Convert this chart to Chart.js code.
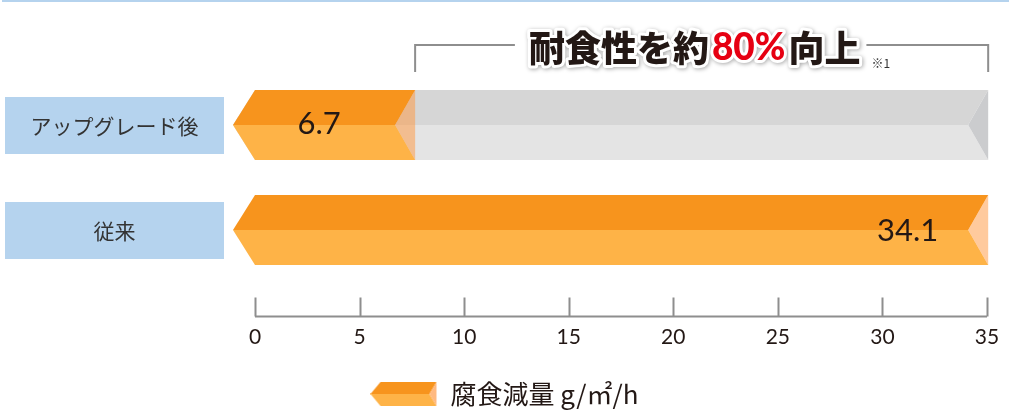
<!DOCTYPE html>
<html lang="ja">
<head>
<meta charset="utf-8">
<script src="https://cdn.jsdelivr.net/npm/chart.js@4.4.1/dist/chart.umd.min.js"></script>
<style>
  html, body { margin: 0; padding: 0; background: #fff; }
  #wrap { position: relative; width: 1009px; height: 411px; }
</style>
</head>
<body>
<div id="wrap"><canvas id="chart" width="1009" height="411"></canvas></div>
<script>
// データ
const categories = ["アップグレード後", "従来"];
const lossValues = [6.7, 34.1];
const compareValues = [34.1, null];
const tickValues = [0, 5, 10, 15, 20, 25, 30, 35];
const seriesLabel = "腐食減量 g/㎡/h";
const headlineParts = ["耐食性を約", "80%", "向上"];
const footnote = "※1";

(function () {
  const JP = "'Noto Sans CJK JP', 'Noto Sans', sans-serif";
  const NUM = "Lato, 'Noto Sans', sans-serif";
  const TIP = 22;   // 左の矢じり
  const EXT = 20;   // 右端の切り込み

  const orange = { top: "#F7941D", bottom: "#FEB347", notch: "rgba(255,150,60,0.5)" };
  const grey = { top: "#D6D6D6", bottom: "#E4E4E4", notch: "#CBCCCE" };

  function chevron(ctx, base, end, cy, top, bottom, c) {
    ctx.beginPath();
    ctx.moveTo(base - TIP, cy);
    ctx.lineTo(base, top);
    ctx.lineTo(end + EXT, top);
    ctx.lineTo(end, cy);
    ctx.closePath();
    ctx.fillStyle = c.top;
    ctx.fill();

    ctx.beginPath();
    ctx.moveTo(base - TIP, cy);
    ctx.lineTo(base, bottom);
    ctx.lineTo(end + EXT, bottom);
    ctx.lineTo(end, cy);
    ctx.closePath();
    ctx.fillStyle = c.bottom;
    ctx.fill();

    ctx.beginPath();
    ctx.moveTo(end + EXT, top);
    ctx.lineTo(end, cy);
    ctx.lineTo(end + EXT, bottom);
    ctx.closePath();
    ctx.fillStyle = c.notch;
    ctx.fill();
  }

  // 凡例アイコン
  function legendIcon() {
    const cv = document.createElement("canvas");
    cv.width = 67;
    cv.height = 24;
    const c = cv.getContext("2d");
    c.beginPath();
    c.moveTo(0, 12); c.lineTo(10, 0); c.lineTo(66, 0); c.lineTo(59, 12); c.closePath();
    c.fillStyle = orange.top; c.fill();
    c.beginPath();
    c.moveTo(0, 12); c.lineTo(10, 24); c.lineTo(66, 24); c.lineTo(59, 12); c.closePath();
    c.fillStyle = orange.bottom; c.fill();
    c.beginPath();
    c.moveTo(66, 0); c.lineTo(59, 12); c.lineTo(66, 24); c.closePath();
    c.fillStyle = "#FFB980"; c.fill();
    return cv;
  }

  const chevronBars = {
    id: "chevronBars",
    beforeDatasetsDraw(chart) {
      const ctx = chart.ctx;
      // 比較バー → 本体の順に描く
      [1, 0].forEach((di) => {
        const meta = chart.getDatasetMeta(di);
        const colors = di === 0 ? orange : grey;
        meta.data.forEach((el, i) => {
          const v = chart.data.datasets[di].data[i];
          if (v == null) return;
          const p = el.getProps(["x", "y", "base", "height"], true);
          const top = p.y - p.height / 2;
          const bottom = p.y + p.height / 2;
          chevron(ctx, p.base, p.x, p.y, top, bottom, colors);
        });
      });
    },
    afterDatasetsDraw(chart) {
      const ctx = chart.ctx;
      const meta = chart.getDatasetMeta(0);
      ctx.save();
      ctx.fillStyle = "#231815";
      ctx.font = "31px " + NUM;
      ctx.textBaseline = "middle";
      meta.data.forEach((el, i) => {
        const p = el.getProps(["x", "y", "base"], true);
        const txt = String(lossValues[i]);
        if (p.x - p.base > 300) {
          ctx.textAlign = "right";
          ctx.fillText(txt, p.x - 30, p.y + 1);
        } else {
          ctx.textAlign = "center";
          ctx.fillText(txt, (p.x + p.base) / 2 - 6, p.y - 1);
        }
      });
      ctx.restore();
    },
    afterDraw(chart) {
      const ctx = chart.ctx;
      const xs = chart.scales.x;
      const ys = chart.scales.y;
      const area = chart.chartArea;
      ctx.save();

      // 上端の青線
      ctx.fillStyle = "#B5D3EE";
      ctx.fillRect(2, 0, chart.width - 2, 2);

      // カテゴリ枠
      categories.forEach((name, i) => {
        const cy = ys.getPixelForValue(i);
        ctx.fillStyle = "#B5D3EE";
        ctx.fillRect(5, cy - 28, 219, 57);
        ctx.fillStyle = "#333333";
        ctx.font = "21px " + JP;
        ctx.textAlign = "center";
        ctx.textBaseline = "middle";
        ctx.fillText(name, 114.5, cy + 1);
      });

      // 目盛り軸
      const axisY = area.bottom + 34;
      ctx.strokeStyle = "#8E8E8E";
      ctx.lineWidth = 2;
      ctx.beginPath();
      ctx.moveTo(xs.left, axisY);
      ctx.lineTo(xs.right, axisY);
      xs.ticks.forEach((t) => {
        const x = Math.round(xs.getPixelForValue(t.value)) + 0.5;
        ctx.moveTo(x, axisY);
        ctx.lineTo(x, axisY - 19);
      });
      ctx.stroke();

      // 見出しとブラケット
      const left = xs.getPixelForValue(lossValues[0]) + EXT;
      const right = xs.getPixelForValue(lossValues[1]) + EXT;
      const lineY = 45;
      const fontH = "900 36px " + JP;
      const fontNum = "900 37px " + NUM;
      ctx.font = fontH;
      const w0 = ctx.measureText(headlineParts[0]).width;
      const w2 = ctx.measureText(headlineParts[2]).width;
      ctx.font = fontNum;
      const w1 = ctx.measureText(headlineParts[1]).width;
      const total = w0 + w1 + w2 + 6;
      const cx = (left + right) / 2 - 7;
      const tx = cx - total / 2;

      ctx.strokeStyle = "#8E8E8E";
      ctx.lineWidth = 2;
      ctx.beginPath();
      ctx.moveTo(left, lineY + 27);
      ctx.lineTo(left, lineY);
      ctx.lineTo(tx - 14, lineY);
      ctx.moveTo(tx + total + 6, lineY);
      ctx.lineTo(right, lineY);
      ctx.lineTo(right, lineY + 27);
      ctx.stroke();

      const parts = [
        { t: headlineParts[0], f: fontH, c: "#231815", w: w0 },
        { t: headlineParts[1], f: fontNum, c: "#E60012", w: w1 },
        { t: headlineParts[2], f: fontH, c: "#231815", w: w2 }
      ];
      ctx.textAlign = "left";
      ctx.textBaseline = "middle";
      ctx.lineJoin = "round";
      let x = tx;
      parts.forEach((pt) => {
        ctx.font = pt.f;
        ctx.save();
        ctx.shadowColor = "rgba(0,0,0,0.35)";
        ctx.shadowBlur = 4;
        ctx.shadowOffsetX = 1;
        ctx.shadowOffsetY = 1;
        ctx.strokeStyle = "#FFFFFF";
        ctx.lineWidth = 6;
        ctx.strokeText(pt.t, x, 48);
        ctx.restore();
        ctx.fillStyle = pt.c;
        ctx.fillText(pt.t, x, 48);
        x += pt.w + 3;
      });

      ctx.font = "12px " + JP;
      ctx.fillStyle = "#333333";
      ctx.fillText(footnote, x + 8, 63);

      ctx.restore();
    }
  };

  const ctx = document.getElementById("chart").getContext("2d");
  new Chart(ctx, {
    type: "bar",
    data: {
      labels: categories,
      datasets: [
        {
          label: seriesLabel,
          data: lossValues,
          backgroundColor: "rgba(0,0,0,0)",
          barThickness: 70,
          grouped: false,
          pointStyle: legendIcon()
        },
        {
          label: "比較",
          data: compareValues,
          backgroundColor: "rgba(0,0,0,0)",
          barThickness: 70,
          grouped: false
        }
      ]
    },
    options: {
      indexAxis: "y",
      responsive: false,
      animation: false,
      layout: { padding: { left: 0, right: 0, top: 72.5, bottom: -6 } },
      scales: {
        x: {
          min: 0,
          max: 35,
          afterBuildTicks(scale) {
            scale.ticks = tickValues.map((v) => ({ value: v }));
          },
          afterFit(scale) {
            scale.height = 95.5;
            scale.paddingLeft = 6;
            scale.paddingRight = 22;
          },
          grid: { display: false, drawTicks: false },
          border: { display: false },
          ticks: {
            padding: 42,
            color: "#231815",
            font: { family: NUM, size: 21 }
          }
        },
        y: {
          grid: { display: false, drawTicks: false },
          border: { display: false },
          ticks: { display: false },
          afterFit(scale) {
            scale.width = 255;
          }
        }
      },
      plugins: {
        tooltip: { enabled: false },
        legend: {
          position: "bottom",
          labels: {
            filter: (item) => item.datasetIndex === 0,
            usePointStyle: true,
            pointStyleWidth: 67,
            boxHeight: 24,
            padding: 3,
            color: "#231815",
            font: { family: JP, size: 26 }
          }
        }
      }
    },
    plugins: [chevronBars]
  });
})();
</script>
</body>
</html>
